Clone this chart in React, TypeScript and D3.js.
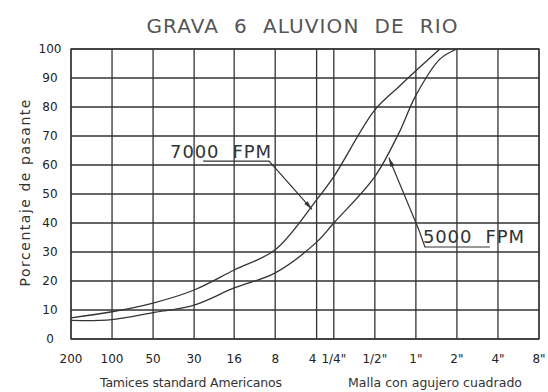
import * as d3 from 'd3';

const [W, H] = [548, 392];

// sieve openings (mm) and their labels
const sieveLabels = ['200', '100', '50', '30', '16', '8', '4', '1/4"', '1/2"', '1"', '2"', '4"', '8"'];
const sieveSizes = [0.075, 0.15, 0.3, 0.6, 1.18, 2.36, 4.75, 6.35, 12.7, 25.4, 50.8, 101.6, 203.2];
const yTicks = [0, 10, 20, 30, 40, 50, 60, 70, 80, 90, 100];

// percent passing
const sizes7000 = [0.075, 0.15, 0.3, 0.6, 1.18, 2.36, 4.75, 6.35, 12.7, 19.05, 25.4, 38.1];
const pass7000 = [7.3, 9.4, 12.4, 16.9, 23.8, 30.8, 48, 56, 79, 87, 92.5, 100];
const sizes5000 = [0.075, 0.15, 0.3, 0.6, 1.18, 2.36, 4.75, 6.35, 12.7, 19.05, 25.4, 38.1, 50.8];
const pass5000 = [6.4, 6.7, 9.1, 11.7, 17.6, 22.8, 33.4, 40, 56, 71, 84, 96.5, 100];

// callouts: text anchor and arrow tip in data units (mm, %)
const notes = [
    {text: '7000  FPM', at: [0.40, 62.4], tip: [4.39, 44.7], side: 'right'},
    {text: '5000  FPM', at: [28.6, 33.1], tip: [16.1, 62.5], side: 'left'},
];

const ink = '#333';

function App() {
    const x = d3.scaleLog().domain([0.075, 203.2]).range([71, 539]);
    const y = d3.scaleLinear().domain([0, 100]).range([339, 49]);

    const line = d3.line<[number, number]>()
        .x(d => x(d[0]))
        .y(d => y(d[1]))
        .curve(d3.curveCatmullRom.alpha(0.5));

    const c7000 = sizes7000.map((s, i) => [s, pass7000[i]] as [number, number]);
    const c5000 = sizes5000.map((s, i) => [s, pass5000[i]] as [number, number]);

    const arrow = (from: number[], to: number[]) => {
        const dx = to[0] - from[0], dy = to[1] - from[1];
        const len = Math.hypot(dx, dy);
        const ux = dx / len, uy = dy / len;
        const bx = to[0] - ux * 9, by = to[1] - uy * 9;
        return `${to[0]},${to[1]} ${bx - uy * 2.2},${by + ux * 2.2} ${bx + uy * 2.2},${by - ux * 2.2}`;
    };

    const font = '"DejaVu Sans", "Liberation Sans", sans-serif';
    const pre = {whiteSpace: 'pre'} as const;

    return (
        <svg width={W} height={H} style={{position: 'absolute', left: 0, top: 0, background: '#fff'}} fontFamily={font}>
            <text x={302} y={33} textAnchor="middle" fontSize={20} fill="#555" style={pre}
                  textLength={311} lengthAdjust="spacing">
                {'GRAVA  6  ALUVION  DE  RIO'}
            </text>

            {/* grid */}
            <g stroke={ink} strokeWidth={1.3} fill="none">
                {yTicks.map(t => (
                    <line key={'h' + t} x1={x.range()[0]} x2={x.range()[1]} y1={y(t)} y2={y(t)} />
                ))}
                {sieveSizes.map(s => (
                    <line key={'v' + s} x1={x(s)} x2={x(s)} y1={y(0)} y2={y(100)} />
                ))}
                <rect x={x.range()[0]} y={y(100)} width={x.range()[1] - x.range()[0]} height={y(0) - y(100)} />
            </g>

            {/* y labels */}
            <g fontSize={12} fill="#222" textAnchor="middle">
                {yTicks.map(t => (
                    <text key={t} x={50} y={y(t)} dy="0.36em">{t}</text>
                ))}
            </g>
            <text transform="translate(30,193) rotate(-90)" textAnchor="middle" fontSize={14} fill="#333"
                  textLength={187} lengthAdjust="spacing">Porcentaje de pasante</text>

            {/* x labels */}
            <g fontSize={12} fill="#222" textAnchor="middle">
                {sieveSizes.map((s, i) => (
                    <text key={s} x={x(s) + (sieveLabels[i] === '4' ? -4 : 0)} y={363}>{sieveLabels[i]}</text>
                ))}
            </g>
            <text x={191} y={387} textAnchor="middle" fontSize={12.5} fill="#333" textLength={182} lengthAdjust="spacing">
                Tamices standard Americanos
            </text>
            <text x={435} y={387} textAnchor="middle" fontSize={12.5} fill="#333" textLength={174} lengthAdjust="spacing">
                Malla con agujero cuadrado
            </text>

            {/* curves */}
            <g fill="none" stroke={ink} strokeWidth={1.3}>
                <path d={line(c7000) ?? ''} />
                <path d={line(c5000) ?? ''} />
            </g>

            {/* callouts */}
            {notes.map(n => {
                const ax = x(n.at[0]), ay = y(n.at[1]);
                const tip = [x(n.tip[0]), y(n.tip[1])];
                const pts = n.side === 'right'
                    ? [[ax + 33, ay + 3], [ax + 99, ay + 3], tip]
                    : [tip, [ax - 4, ay - 13], [ax + 2, ay + 4], [ax + 67, ay + 4]];
                return (
                    <g key={n.text}>
                        <text x={ax} y={ay} fontSize={18} fill="#333" style={pre}
                              textLength={101} lengthAdjust="spacing">{n.text}</text>
                        <polyline points={pts.map(p => p.join(',')).join(' ')} fill="none" stroke={ink} strokeWidth={1.2} />
                        <polygon points={arrow(pts[1], tip)} fill={ink} />
                    </g>
                );
            })}
        </svg>
    );
}

export default App;
